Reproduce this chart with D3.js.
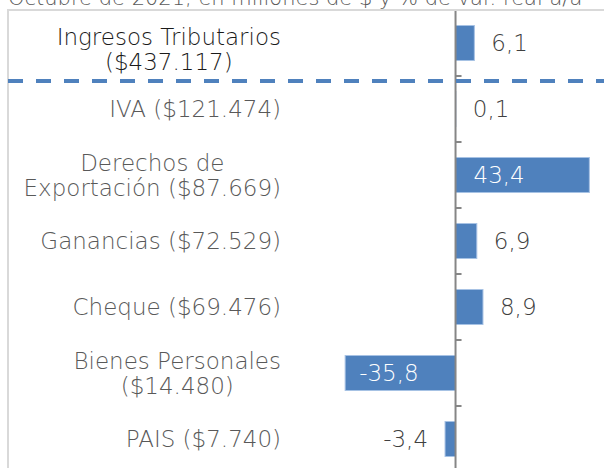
<!DOCTYPE html>
<html>
<head>
<meta charset="utf-8">
<script src="https://cdn.jsdelivr.net/npm/d3@7"></script>
<style>
  html, body { margin: 0; padding: 0; background: #ffffff; }
  svg { display: block; font-family: "DejaVu Sans", sans-serif; font-weight: 200; }
</style>
</head>
<body>
<svg id="chart" width="604" height="468"></svg>
<script>
var title = "Octubre de 2021, en millones de $ y % de var. real a/a";

var categories = [
	["Ingresos Tributarios", "($437.117)"],
	["IVA ($121.474)"],
	["Derechos de", "Exportación ($87.669)"],
	["Ganancias ($72.529)"],
	["Cheque ($69.476)"],
	["Bienes Personales", "($14.480)"],
	["PAIS ($7.740)"]
];

var values = [6.1, 0.1, 43.4, 6.9, 8.9, -35.8, -3.4];

var locale = d3.formatLocale({ decimal: ",", thousands: ".", grouping: [3], currency: ["$", ""], minus: "-" });
var fmt = locale.format(".1f");

var width = 604;
var height = 468;
var fontSize = 23;
var lineGap = 25;

var svg = d3.select("#chart");

var data = categories.map(function(c, i) {
	return { id: i, lines: c, value: values[i] };
});

// value scale: about 3.07 px per point
var x = d3.scaleLinear()
	.domain([-40, 50])
	.range([332.2, 609.7]);

var y = d3.scaleBand()
	.domain(data.map(function(d) { return d.id; }))
	.range([10, 472])
	.paddingInner(0.47)
	.paddingOuter(0.235);

var step = y.step();
var bandTop = function(i) { return 10 + i * step; };

/* frame */
svg.append("path")
	.attr("d", "M8," + height + "V10H" + width)
	.attr("fill", "none")
	.attr("stroke", "#d9d9d9")
	.attr("stroke-width", 2);

/* title, cut at the top */
svg.append("text")
	.attr("x", 8)
	.attr("y", 5)
	.attr("fill", "#595959")
	.attr("font-size", "21px")
	.text(title);

/* bars */
svg.append("g").selectAll("rect")
	.data(data)
	.enter()
	.append("rect")
	.attr("x", function(d) { return Math.min(x(0), x(d.value)); })
	.attr("y", function(d) { return y(d.id); })
	.attr("width", function(d) { return Math.abs(x(d.value) - x(0)); })
	.attr("height", y.bandwidth())
	.attr("fill", "#4f81bd")
	.attr("stroke", "#a7c2e4")
	.attr("stroke-width", 1);

/* axis at zero */
var axisG = svg.append("g").attr("transform", "translate(" + x(0) + ",0)");
axisG.append("line")
	.attr("y1", 11)
	.attr("y2", height)
	.attr("stroke", "#868686")
	.attr("stroke-width", 2);
axisG.selectAll("line.tick")
	.data(d3.range(1, data.length))
	.enter()
	.append("line")
	.attr("class", "tick")
	.attr("x1", 0)
	.attr("x2", 6)
	.attr("y1", function(i) { return bandTop(i); })
	.attr("y2", function(i) { return bandTop(i); })
	.attr("stroke", "#868686")
	.attr("stroke-width", 2);

/* dashed separator under the total */
svg.append("line")
	.attr("x1", 8)
	.attr("x2", width)
	.attr("y1", 81)
	.attr("y2", 81)
	.attr("stroke", "#4f81bd")
	.attr("stroke-width", 4)
	.attr("stroke-dasharray", "15,13");

/* category labels: block right aligned, lines centred inside */
var labelRight = 281;
var labels = svg.append("g").selectAll("g")
	.data(data)
	.enter()
	.append("g");

labels.each(function(d) {
	var g = d3.select(this);
	var n = d.lines.length;
	// the total's label sits a little lower in its box
	var cy = y(d.id) + y.bandwidth() / 2 + (d.id === 0 ? 6 : 0);
	var texts = g.selectAll("text")
		.data(d.lines)
		.enter()
		.append("text")
		.attr("font-size", fontSize + "px")
		.attr("fill", d.id === 0 ? "#1a1a1a" : "#595959")
		.attr("text-anchor", "middle")
		.attr("y", function(l, j) { return cy + (j - (n - 1) / 2) * lineGap + 8; })
		.text(function(l) { return l; });
	var maxW = 0;
	texts.each(function() {
		maxW = Math.max(maxW, this.getComputedTextLength());
	});
	texts.attr("x", labelRight - maxW / 2);
});

/* value labels */
svg.append("g").selectAll("text")
	.data(data)
	.enter()
	.append("text")
	.attr("font-size", fontSize + "px")
	.attr("y", function(d) { return y(d.id) + y.bandwidth() / 2 + 8; })
	.attr("fill", function(d) { return Math.abs(d.value) > 30 ? "#ffffff" : "#404040"; })
	.attr("text-anchor", function(d) { return d.value < 0 && Math.abs(d.value) <= 30 ? "end" : "start"; })
	.attr("x", function(d) {
		if (Math.abs(d.value) > 30) {
			return d.value > 0 ? x(0) + 18 : x(d.value) + 14;
		}
		return d.value >= 0 ? x(d.value) + 17 : x(d.value) - 17;
	})
	.text(function(d) { return fmt(d.value); });
</script>
</body>
</html>
